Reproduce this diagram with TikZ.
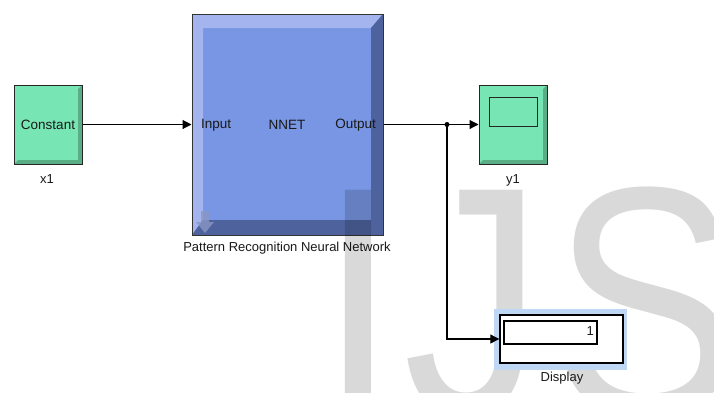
\documentclass[tikz,border=0pt]{standalone}
\usepackage{fontspec}
\setmainfont{Liberation Sans}
\usetikzlibrary{arrows.meta}
\definecolor{gface}{HTML}{78E6B4}
\definecolor{gdark}{HTML}{5AAE86}
\definecolor{bface}{HTML}{7896E3}
\definecolor{blight}{HTML}{A3B4EE}
\definecolor{bdark}{HTML}{4E629E}
\definecolor{hilite}{HTML}{BDD7F5}
\definecolor{iconc}{HTML}{8A97C4}
\begin{document}
\begin{tikzpicture}[x=1pt,y=-1pt,
  lbl/.style={font=\fontsize{13}{13}\selectfont, text=black!90, inner sep=0pt},
  blockbox/.style={draw=black!85, line width=1pt, inner sep=0pt, fill=none, font=\fontsize{13.5}{13.5}\selectfont, text=black!90},
  sig/.style={line width=1.1pt, -{Triangle[length=9pt,width=9pt]}},
  wire/.style={line width=1.1pt},
  wm/.style={font=\fontsize{326}{326}\selectfont, text=black, text opacity=0.15, inner sep=0pt, anchor=base west, xscale=0.86},
]
\useasboundingbox (0,0) rectangle (714,392);
\fill[white] (0,0) rectangle (714,392);

% Constant block
\fill[gface] (14,85) rectangle (82,164);
\fill[gdark] (82,85) -- (82,164) -- (14,164) -- (18,160) -- (78,160) -- (78,89) -- cycle;
\node[blockbox, minimum width=68pt, minimum height=79pt] (const) at (48,124.5) {Constant};
\node[lbl] (x1lbl) at (47,179) {x1};

% NNET block
\fill[bface] (192,14) rectangle (383,235);
\fill[blight] (192,14) -- (383,14) -- (371,28) -- (203,28) -- (203,220) -- (192,235) -- cycle;
\fill[bdark] (383,14) -- (383,235) -- (192,235) -- (203,220) -- (371,220) -- (371,28) -- cycle;
\fill[iconc, opacity=0.8] (201,211) -- (209,211) -- (209,222) -- (214,222) -- (205,233) -- (196,222) -- (201,222) -- cycle;
\node[blockbox, draw=black!80, minimum width=191pt, minimum height=221pt] (nnet) at (287.5,124.5) {};
\node[lbl, font=\fontsize{13.5}{13.5}\selectfont, anchor=west] (inp) at (201,125) {Input};
\node[lbl, font=\fontsize{13.5}{13.5}\selectfont] (nnettxt) at (287,125) {NNET};
\node[lbl, font=\fontsize{13.5}{13.5}\selectfont, anchor=east] (outp) at (376,125) {Output};
\node[lbl] (nnetlbl) at (287,248) {Pattern Recognition Neural Network};

% Scope block
\fill[gface] (479,85) rectangle (547,164);
\fill[gdark] (547,85) -- (547,164) -- (479,164) -- (483,160) -- (543,160) -- (543,89) -- cycle;
\node[blockbox, minimum width=68pt, minimum height=79pt] (scope) at (513,124.5) {};
\node[draw=black!85, line width=1pt, fill=gface, minimum width=48pt, minimum height=29pt, inner sep=0pt] (screen) at (513,111.5) {};
\node[lbl] (y1lbl) at (513,180) {y1};

% Watermark
\begin{scope}
\clip (0,0) rectangle (714,392);
\node[wm] (wI) at (319,414) {I};
\node[wm] (wJ) at (403,414) {J};
\node[wm] (wS) at (552,414) {S};
\end{scope}

% Display block
\fill[hilite] (494,309) rectangle (627,370);
\node[draw=black, line width=1.4pt, fill=white, minimum width=123pt, minimum height=48pt, inner sep=0pt] (disp) at (561.5,339) {};
\node[draw=black, line width=1.2pt, fill=white, minimum width=93pt, minimum height=23pt, inner sep=0pt] (dispin) at (550.5,332.5) {};
\node[lbl, anchor=east] (dval) at (594,331) {1};
\node[lbl] (displbl) at (562,378) {Display};

% Connectors
\coordinate (junc) at (447,124.5);
\draw[sig] (const.east) -- (nnet.west);
\draw[wire] (nnet.east) -- (junc);
\draw[sig] (junc) -- (scope.west);
\draw[sig] (junc) |- (disp.west);
\fill (junc) circle (2.5);
\end{tikzpicture}
\end{document}
